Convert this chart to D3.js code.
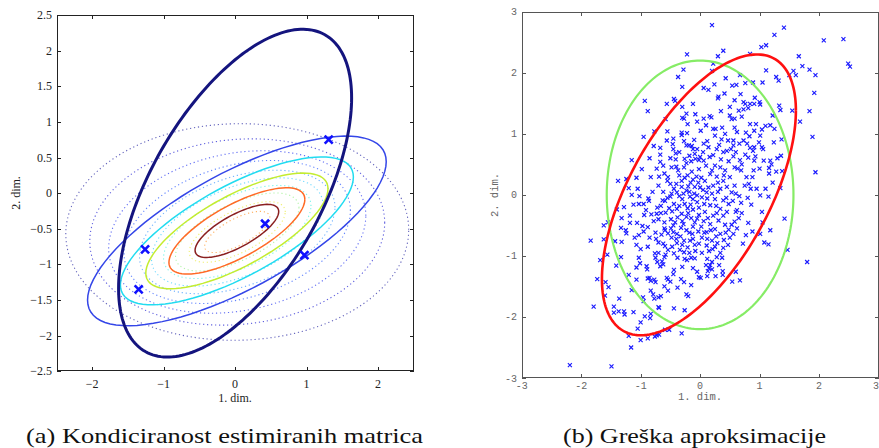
<!DOCTYPE html>
<html><head><meta charset="utf-8">
<script src="https://cdn.jsdelivr.net/npm/d3@7"></script>
<style>body{margin:0;background:#fff}svg{display:block}</style>
</head><body>
<svg id="fig" width="879" height="448"></svg>
<script>
// ---------- panel (a): conditioning of estimated matrices ----------
const aXTicks = [-2, -1, 0, 1, 2];
const aYTicks = [-2.5, -2, -1.5, -1, -0.5, 0, 0.5, 1, 1.5, 2, 2.5];

// estimated density: centre, covariance [xx, xy, yy] and contour scales
const estCenter = [0.025, -0.53];
const estCov = [4.37, 2.03, 1.77];
const solidScales = [1, 0.78, 0.61, 0.455, 0.28];
const solidColors = ["#3446e8", "#22dcf0", "#c4ec30", "#ff6a26", "#8a1f1f"];

// reference density drawn with dotted contours
const dotCenter = [0.03, -0.545];
const dotSx = 2.4, dotSy = 1.52;
const dotScales = [1, 0.86, 0.75, 0.66, 0.57, 0.5, 0.43, 0.36, 0.28, 0.19];
const dotRho = [0.02, 0.1, 0.2, 0.3, 0.4, 0.5, 0.56, 0.62, 0.66, 0.7];
const dotColors = ["#2020a0", "#1a1ad0", "#2030f0", "#2050ff", "#3090ff", "#30c8ff", "#40f0e0", "#90f080", "#e8e830", "#ff9020"];

// badly conditioned estimate
const wideCenter = [0.0, 0.0];
const wideCov = [2.66, 2.18, 5.29];

// sample points marked with crosses
const markX = [1.31, 0.42, -1.26, -1.35, 0.97];
const markY = [0.75, -0.43, -0.79, -1.35, -0.87];

// ---------- panel (b): approximation error ----------
const bTicks = [-3, -2, -1, 0, 1, 2, 3];
const greenCenter = [0, 0], greenRadii = [1.57, 2.2];
const redCenter = [-0.02, 0.0];
const redCov = [2.66, 2.25, 5.29];

const samples = [
[-0.22,2.30],[-0.28,2.05],[-0.37,1.93],[-0.30,1.77],[-0.93,1.54],[-0.88,1.37],[-0.56,1.49],[-0.44,1.57],[-0.42,1.54],[-0.30,1.44],
[-0.12,1.49],[-0.23,1.33],[-0.30,1.26],[-0.27,1.25],[-0.21,1.16],[-0.08,1.32],[-0.05,1.20],[-0.58,1.24],[-0.77,1.04],[-0.55,1.04],
[-0.31,1.02],[-0.22,1.01],
[0.20,2.78],[1.41,2.74],[1.25,2.62],[2.08,2.53],[2.41,2.55],[1.11,2.45],[1.03,2.42],[0.39,2.36],[0.30,2.27],[0.84,2.31],
[1.66,2.27],[2.49,2.15],[2.52,2.10],[0.22,2.15],[0.20,2.03],[1.72,2.11],[1.84,2.05],[1.94,1.96],[1.11,2.04],[1.28,1.93],
[1.32,1.87],[1.50,1.96],[1.61,1.96],[1.57,2.03],[0.43,1.91],[0.67,1.96],[0.24,1.81],[0.06,1.75],[0.14,1.72],[0.54,1.79],
[0.61,1.80],[0.76,1.83],[0.89,1.84],[1.05,1.84],[1.92,1.67],[0.41,1.66],[0.31,1.61],[0.30,1.58],[0.68,1.65],[0.58,1.55],
[0.73,1.52],[0.76,1.49],[0.84,1.49],[0.91,1.49],[1.00,1.52],[1.01,1.48],[0.92,1.59],[1.33,1.46],[1.35,1.39],[1.55,1.38],
[1.84,1.37],[0.50,1.44],[0.35,1.37],[0.65,1.38],[0.73,1.40],[0.81,1.42],[0.16,1.29],[0.19,1.27],[0.06,1.25],[0.50,1.30],
[0.53,1.24],[0.58,1.25],[0.70,1.28],[1.22,1.30],[1.68,1.20],[0.10,1.14],[0.01,1.05],[0.37,1.10],[0.26,1.08],[0.22,1.08],
[0.58,1.10],[0.62,1.03],[0.84,1.16],[0.94,1.16],[1.04,1.07],[1.10,1.13],[1.18,1.14],[0.91,1.05],[0.77,1.02],[1.25,1.08],
[-1.84,-0.75],[-1.62,-0.50],[-1.62,-0.73],[-1.55,-0.45],[-1.56,-0.98],[-1.43,-0.76],[-1.32,-0.77],[-1.38,0.23],[-1.24,0.26],[-1.20,0.11],
[-1.05,0.10],[-1.07,0.28],[-1.15,0.57],[-1.40,-0.24],[-1.32,-0.38],[-1.33,-0.54],[-1.25,-0.58],[-1.24,-0.63],[-1.18,-0.34],[-1.18,-0.46],
[-1.06,-0.46],[-1.03,-0.66],[-1.00,-0.89],[-1.07,-0.82],[-1.12,-0.16],[-1.03,-0.15],[-1.02,-0.02],[-0.94,-0.33],[-0.91,-0.25],[-0.97,-0.51],
[-0.88,-0.53],[-0.88,-0.85],[-0.83,0.29],[-0.86,-0.10],[-0.87,-0.06],[-0.73,0.43],[-0.72,-0.21],[-0.73,-0.31],[-0.78,-0.43],[-0.75,-0.62],
[-0.74,-0.72],[-0.70,-0.78],[-0.76,-0.96],[-0.69,0.30],[-0.67,0.77],[-0.67,0.66],[-0.67,0.54],[-0.56,0.89],[-0.63,-0.09],[-0.59,-0.10],
[-0.66,-0.30],[-0.58,-0.29],[-0.60,-0.55],[-0.59,-0.58],[-0.54,-0.63],[-0.59,-0.84],[-0.54,-0.90],[-0.54,0.29],[-0.55,0.23],[-0.50,0.18],
[-0.46,0.83],[-0.45,0.75],[-0.41,0.68],[-0.41,0.58],[-0.40,0.46],[-0.37,0.40],[-0.44,0.10],[-0.39,0.04],[-0.50,-0.03],[-0.44,-0.15],
[-0.39,-0.23],[-0.47,-0.27],[-0.49,-0.40],[-0.42,-0.45],[-0.49,-0.55],[-0.45,-0.61],[-0.39,-0.64],[-0.39,-0.79],[-0.34,-0.90],[-0.27,-0.94],
[-0.31,0.98],[-0.27,0.88],[-0.23,0.81],[-0.19,0.81],[-0.14,0.80],[-0.12,0.75],[-0.09,0.67],[-0.18,0.64],[-0.08,0.59],[-0.02,0.57],
[-0.26,0.59],[-0.23,0.52],[-0.27,0.45],[-0.21,0.32],[-0.26,0.28],[-0.31,0.23],[-0.16,0.20],[-0.09,0.13],[-0.06,0.30],[-0.03,0.20],
[-0.31,0.13],[-0.23,0.07],[-0.17,-0.03],[-0.12,-0.07],[-0.05,-0.01],[-0.30,-0.07],[-0.26,-0.15],[-0.21,-0.22],[-0.12,-0.24],[-0.02,-0.21],
[-0.31,-0.31],[-0.23,-0.36],[-0.15,-0.38],[-0.09,-0.45],[-0.05,-0.39],[-0.30,-0.43],[-0.32,-0.54],[-0.23,-0.58],[-0.13,-0.64],[-0.03,-0.60],
[-0.27,-0.75],[-0.17,-0.75],[-0.09,-0.82],[-0.21,-0.86],
[1.89,0.95],[1.94,0.37],[1.47,-0.90],[1.37,0.91],[1.24,0.86],[1.36,0.64],[1.38,0.39],[1.35,0.11],[1.42,-0.39],[1.28,0.38],
[1.20,0.50],[1.16,0.44],[1.18,0.56],[1.07,0.56],[1.06,0.75],[1.04,0.78],[0.99,0.86],[0.91,0.78],[0.93,0.63],[1.00,0.43],
[1.16,0.35],[1.22,0.20],[1.15,-0.03],[1.01,-0.01],[0.86,-0.16],[1.04,-0.28],[1.05,-0.45],[1.18,-0.58],[1.01,-0.64],[1.08,-0.78],
[1.15,-0.81],[0.81,-0.46],[0.77,-0.66],[0.65,-0.38],[0.69,-0.13],[0.62,-0.25],[0.60,-0.28],[0.58,-0.44],[0.53,-0.49],[0.56,-0.64],
[0.48,-0.57],[0.40,-0.74],[0.39,-0.87],[0.34,-0.95],[0.29,-0.79],[0.21,-0.89],[0.11,-0.83],[0.03,-0.95],[0.66,-0.02],[0.60,0.02],
[0.53,0.04],[0.82,0.18],[0.85,0.10],[0.78,0.29],[0.88,0.29],[0.69,0.40],[0.63,0.43],[0.58,0.45],[0.67,0.57],[0.56,0.63],
[0.52,0.75],[0.56,0.81],[0.66,0.84],[0.79,0.84],[0.84,0.77],[0.89,0.72],[0.76,0.66],[0.81,0.61],[0.91,0.56],[1.01,0.97],
[0.83,0.96],[0.73,0.89],[0.56,0.89],[0.47,0.89],[0.36,0.91],[0.25,0.97],[0.06,0.84],[0.14,0.78],[0.28,0.75],[0.39,0.70],
[0.16,0.62],[0.06,0.56],[0.25,0.48],[0.34,0.45],[0.42,0.40],[0.50,0.29],[0.39,0.23],[0.28,0.30],[0.17,0.34],[0.08,0.23],
[0.22,0.15],[0.34,0.10],[0.45,0.13],[0.11,0.04],[0.03,-0.04],[0.25,-0.07],[0.39,-0.09],[0.48,-0.15],[0.17,-0.17],[0.34,-0.23],
[0.08,-0.28],[0.22,-0.34],[0.39,-0.34],[0.31,-0.42],[0.06,-0.43],[0.17,-0.48],[0.42,-0.49],[0.25,-0.56],[0.11,-0.61],[0.34,-0.64],
[0.03,-0.70],[0.20,-0.75],[0.50,-0.70],
[-2.19,-2.79],[-1.49,-2.81],[-1.16,-2.50],[-1.00,-2.38],[-0.88,-2.35],[-0.76,-2.32],[-0.73,-2.30],[-0.69,-2.29],[-0.59,-2.21],[-0.52,-2.21],
[-0.31,-2.27],[-1.20,-2.31],[-1.05,-2.19],[-1.00,-2.09],[-1.79,-1.83],[-1.73,-1.38],[-1.68,-1.07],[-1.59,-1.43],[-1.54,-1.51],[-1.60,-1.65],
[-1.45,-1.83],[-1.45,-1.93],[-1.36,-1.70],[-1.37,-1.91],[-1.28,-1.91],[-1.27,-1.96],[-1.12,-1.92],[-0.93,-1.99],[-0.83,-1.95],[-0.84,-2.02],
[-0.70,-1.84],[-0.69,-1.85],[-0.44,-1.86],[-0.26,-1.89],[-1.33,-1.02],[-1.41,-1.16],[-1.20,-1.31],[-1.07,-1.39],[-1.15,-1.56],[-0.96,-1.68],
[-0.95,-1.74],[-1.07,-1.19],[-1.03,-1.03],[-1.01,-1.12],[-0.90,-1.17],[-0.89,-1.22],[-0.85,-1.36],[-0.83,-1.41],[-0.77,-1.39],[-0.75,-1.43],
[-0.79,-1.63],[-0.77,-1.70],[-0.70,-1.68],[-0.66,-1.66],[-0.83,-1.57],[-0.56,-1.36],[-0.54,-1.39],[-0.50,-1.42],[-0.54,-1.57],[-0.44,-1.23],
[-0.38,-1.52],[-0.27,-1.43],[-0.23,-1.63],[-0.20,-1.66],[-0.09,-1.04],[-0.05,-1.26],[-0.02,-1.35],[-0.75,-1.03],[-0.72,-1.10],[-0.64,-1.09],
[-0.62,-1.14],[-0.67,-1.17],[-0.60,-1.02],[-0.38,-1.03],[-0.26,-1.05],[-0.22,-1.07],[-0.15,-1.03],[-0.88,-1.37],
[1.80,-1.10],[0.12,-1.05],[0.20,-1.10],[0.10,-1.15],[0.17,-1.15],[0.15,-1.20],[0.13,-1.25],[0.12,-1.33],[0.01,-1.36],[0.26,-1.33],
[0.28,-1.02],[0.37,-1.03],[0.38,-1.25],[0.38,-1.31],[0.60,-1.26],[0.54,-1.42],[0.67,-1.40],
[-0.62,0.05],[-0.55,-0.05],[-0.48,0.02],[-0.35,-0.02],[-0.28,0.02],[-0.18,0.05],[-0.10,0.02],[0.05,0.08],[0.14,0.12],[0.20,0.02],
[-0.66,-0.18],[-0.52,-0.22],[-0.35,-0.18],[-0.16,-0.16],[-0.05,-0.12],[0.07,-0.15],[0.27,-0.18],[0.44,-0.05],[0.30,0.05],[0.12,-0.06],
[-0.70,-0.40],[-0.60,-0.45],[-0.38,-0.37],[-0.20,-0.30],[-0.02,-0.33],[0.13,-0.38],[0.28,-0.30],[0.45,-0.28],[-0.12,-0.52],[0.02,-0.52],
[-0.45,-0.50],[-0.28,-0.48],[-0.65,-0.65],[-0.48,-0.70],[-0.33,-0.68],[-0.18,-0.62],[0.07,-0.62],[0.18,-0.58],[0.27,-0.68],[0.43,-0.62],
[-0.62,-0.80],[-0.47,-0.85],[-0.40,-0.72],[-0.12,-0.72],[-0.02,-0.80],[0.12,-0.72],[0.25,-0.85],[0.47,-0.82],[-0.70,-0.95],[-0.58,-0.98],
[-0.44,-0.96],[-0.18,-0.95],[-0.08,-0.92],[0.15,-0.92],[-0.30,-0.82],[-0.85,-0.70],[-0.95,-0.60],[-0.82,-0.32],[-0.95,-0.15],[-0.80,0.05],
[-0.70,0.15],[-0.60,0.35],[-0.48,0.45],[-0.35,0.32],[-0.14,0.38],[-0.02,0.42],[0.10,0.48],[0.20,0.40],[0.02,0.28],[-0.12,0.25],
[-0.40,0.18],[-0.20,0.14],[0.00,0.12],[0.30,0.20],[0.40,0.32],[0.48,0.55],[0.35,0.58],[0.22,0.65],[0.05,0.70],[-0.05,0.75],
[-0.35,0.70],[-0.50,0.60],[-0.62,0.48],[-0.15,0.55],[0.00,0.62],[0.12,0.88],[0.32,0.82],[-0.10,0.90],[-0.45,0.92],[0.42,1.00],
[0.60,0.70],[0.70,0.50],[0.75,0.15],[0.58,0.15],[0.55,-0.10],[0.70,-0.30],[0.80,-0.05],[0.90,0.40],[0.45,0.72],[0.62,-0.55],
[0.72,-0.80],[0.88,-0.60],[0.20,-1.22],[0.32,-1.15],[-0.12,-1.20],[-0.30,-1.18],[-0.45,-1.30],[-0.32,-1.38],[-0.15,-1.48],[-0.60,-1.50],
[-1.10,-0.70],[-1.28,-0.20],[-1.15,0.00],[-0.98,0.42],[-0.85,0.60],[0.95,0.10],[1.10,0.10],[1.30,0.60],[-0.78,0.80],[-0.95,0.95]
];

// ---------- drawing ----------
const svg = d3.select("#fig");

// points of the contour {x: cx + k*L[0]*cos t, y: cy + k*(L[1]*cos t + L[2]*sin t)} where L is the Cholesky factor
function ellipsePoints(center, cov, k, n) {
  const a = Math.sqrt(cov[0]);
  const b = cov[1] / a;
  const c = Math.sqrt(cov[2] - b * b);
  return d3.range(n + 1).map(i => {
    const t = 2 * Math.PI * i / n;
    return [center[0] + k * a * Math.cos(t), center[1] + k * (b * Math.cos(t) + c * Math.sin(t))];
  });
}

function frame(g, x, y, xt, yt, opt) {
  const [x0, x1] = x.range(), [y0, y1] = y.range();
  const tl = opt.tick;
  const tk = g.append("g").attr("stroke", opt.color).attr("stroke-width", 1).attr("shape-rendering", "crispEdges");
  xt.forEach(v => {
    const px = Math.round(x(v)) + 0.5;
    tk.append("line").attr("x1", px).attr("x2", px).attr("y1", y0).attr("y2", y0 - tl);
    tk.append("line").attr("x1", px).attr("x2", px).attr("y1", y1).attr("y2", y1 + tl);
  });
  yt.forEach(v => {
    const py = Math.round(y(v)) + 0.5;
    tk.append("line").attr("x1", x0).attr("x2", x0 + tl).attr("y1", py).attr("y2", py);
    tk.append("line").attr("x1", x1).attr("x2", x1 - tl).attr("y1", py).attr("y2", py);
  });
  g.append("rect").attr("x", x0 + 0.5).attr("y", y1 + 0.5)
    .attr("width", x1 - x0 - 1).attr("height", y0 - y1 - 1)
    .attr("fill", "none").attr("stroke", opt.color).attr("stroke-width", 1)
    .attr("shape-rendering", "crispEdges");
}

const fmtMinus = v => (v < 0 ? "\u2212" : "") + Math.abs(v);

// ---- panel (a)
const xa = d3.scaleLinear().domain([-2.5, 2.5]).range([56.5, 413.7]);
const ya = d3.scaleLinear().domain([-2.5, 2.5]).range([371.3, 15]);
const lineA = d3.line().x(d => xa(d[0])).y(d => ya(d[1])).curve(d3.curveLinear);
const ga = svg.append("g");
const plotA = ga.append("g");

// dotted contours, outermost first
dotScales.forEach((k, i) => {
  const cov = [dotSx * dotSx, dotRho[i] * dotSx * dotSy, dotSy * dotSy];
  plotA.append("path").attr("d", lineA(ellipsePoints(dotCenter, cov, k, 240)))
    .attr("fill", "none").attr("stroke", dotColors[i]).attr("stroke-width", 1.1)
    .attr("stroke-opacity", 0.7).attr("stroke-dasharray", "1.2 2.8");
});
// solid contours of the estimate
solidScales.forEach((k, i) => {
  plotA.append("path").attr("d", lineA(ellipsePoints(estCenter, estCov, k, 90)))
    .attr("fill", "none").attr("stroke", solidColors[i]).attr("stroke-width", 1.5);
});
// badly conditioned estimate
plotA.append("path").attr("d", lineA(ellipsePoints(wideCenter, wideCov, 1, 200)))
  .attr("fill", "none").attr("stroke", "#14147e").attr("stroke-width", 3);
// crosses
markX.forEach((mx, i) => {
  const px = xa(mx), py = ya(markY[i]), s = 4;
  plotA.append("path").attr("d", `M${px - s},${py - s}L${px + s},${py + s}M${px - s},${py + s}L${px + s},${py - s}`)
    .attr("stroke", "#1010ff").attr("stroke-width", 2.6).attr("fill", "none");
});
frame(ga, xa, ya, aXTicks, aYTicks, {color: "#222", tick: 4});

const serif = "'Liberation Serif', 'Times New Roman', serif";
ga.append("g").selectAll("text").data(aXTicks).join("text")
  .attr("x", d => xa(d)).attr("y", 388).attr("text-anchor", "middle")
  .attr("font-family", serif).attr("font-size", 12).attr("fill", "#222").text(fmtMinus);
ga.append("g").selectAll("text").data(aYTicks).join("text")
  .attr("x", 52).attr("y", d => ya(d) + 4).attr("text-anchor", "end")
  .attr("font-family", serif).attr("font-size", 12).attr("fill", "#222").text(fmtMinus);
ga.append("text").attr("x", 235).attr("y", 402).attr("text-anchor", "middle")
  .attr("font-family", serif).attr("font-size", 12).attr("fill", "#222").text("1. dim.");
ga.append("text").attr("transform", "translate(20,193) rotate(-90)").attr("text-anchor", "middle")
  .attr("font-family", serif).attr("font-size", 12).attr("fill", "#222").text("2. dim.");

// ---- panel (b)
const xb = d3.scaleLinear().domain([-3, 3]).range([521.7, 878.5]);
const yb = d3.scaleLinear().domain([-3, 3]).range([378, 11.7]);
const lineB = d3.line().x(d => xb(d[0])).y(d => yb(d[1]));
const gb = svg.append("g");
const plotB = gb.append("g");

plotB.append("g").selectAll("path").data(samples).join("path")
  .attr("d", d => {
    const px = xb(d[0]), py = yb(d[1]), s = 2;
    return `M${px - s},${py - s}L${px + s},${py + s}M${px - s},${py + s}L${px + s},${py - s}`;
  })
  .attr("stroke", "#1a1aff").attr("stroke-width", 1.15).attr("fill", "none");

const greenPts = d3.range(201).map(i => {
  const t = 2 * Math.PI * i / 200;
  return [greenCenter[0] + greenRadii[0] * Math.cos(t), greenCenter[1] + greenRadii[1] * Math.sin(t)];
});
plotB.append("path").attr("d", lineB(greenPts)).attr("fill", "none")
  .attr("stroke", "#86ec66").attr("stroke-width", 2.2);
plotB.append("path").attr("d", lineB(ellipsePoints(redCenter, redCov, 1, 200))).attr("fill", "none")
  .attr("stroke", "#ff1010").attr("stroke-width", 2.6);

frame(gb, xb, yb, bTicks, bTicks, {color: "#555", tick: 4});
const mono = "'Liberation Mono', 'DejaVu Sans Mono', monospace";
gb.append("g").selectAll("text").data(bTicks).join("text")
  .attr("x", d => d === 3 ? 879 : xb(d)).attr("y", 389)
  .attr("text-anchor", d => d === 3 ? "end" : "middle")
  .attr("font-family", mono).attr("font-size", 10).attr("fill", "#666").text(d => d);
gb.append("g").selectAll("text").data(bTicks).join("text")
  .attr("x", 517).attr("y", d => yb(d) + 3.5).attr("text-anchor", "end")
  .attr("font-family", mono).attr("font-size", 10).attr("fill", "#666").text(d => d);
gb.append("text").attr("x", 700).attr("y", 400).attr("text-anchor", "middle")
  .attr("font-family", mono).attr("font-size", 10.5).attr("fill", "#666").text("1. dim.");
gb.append("text").attr("transform", "translate(498,195) rotate(-90)").attr("text-anchor", "middle")
  .attr("font-family", mono).attr("font-size", 10.5).attr("fill", "#666").text("2. dim.");

// ---- captions
svg.append("text").attr("x", 26).attr("y", 443).attr("textLength", 397).attr("lengthAdjust", "spacingAndGlyphs")
  .attr("font-family", serif).attr("font-size", 22).attr("fill", "#111").text("(a) Kondiciranost estimiranih matrica");
svg.append("text").attr("x", 563).attr("y", 443).attr("textLength", 263).attr("lengthAdjust", "spacingAndGlyphs")
  .attr("font-family", serif).attr("font-size", 22).attr("fill", "#111").text("(b) Greška aproksimacije");
</script>
</body></html>
